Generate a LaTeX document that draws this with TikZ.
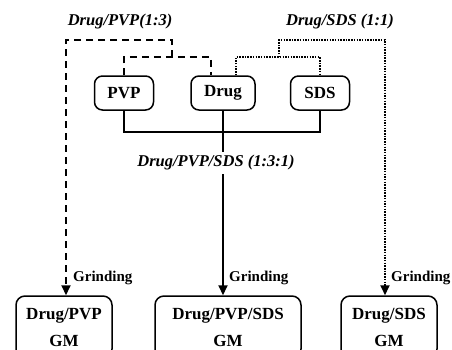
\documentclass[tikz,border=0pt]{standalone}
\usepackage{fontspec}
\setmainfont{Liberation Serif}
\usetikzlibrary{positioning,calc,arrows.meta}

\begin{document}
\begin{tikzpicture}[x=1pt, y=-1pt,
  ingbox/.style={draw, line width=1.5pt, rounded corners=8pt, minimum height=34pt,
    font=\fontsize{17}{20}\selectfont\bfseries, inner sep=0pt},
  gmbox/.style={draw, line width=1.5pt, rounded corners=9pt, minimum height=62pt,
    align=center, font=\fontsize{17}{27}\selectfont\bfseries, inner sep=0pt},
  mixlabel/.style={font=\fontsize{16.5}{20}\selectfont\bfseries\itshape},
  grindlabel/.style={anchor=west, font=\fontsize{15}{18}\selectfont\bfseries, inner sep=0pt},
  dashline/.style={line width=1.8pt, dash pattern=on 7pt off 5pt},
  dotline/.style={line width=1.8pt, dash pattern=on 1.5pt off 1.2pt},
  solidline/.style={line width=1.8pt},
  tip/.style={-{Triangle[length=10pt,width=9pt]}}]
  \clip (0,0) rectangle (452,349);

  % Mixture labels
  \node[mixlabel] (lblpvp) at (120,22) {Drug/PVP(1:3)};
  \node[mixlabel] (lblsds) at (340,22) {Drug/SDS (1:1)};
  \node[mixlabel] (lblall) at (216,163) {Drug/PVP/SDS (1:3:1)};

  % Ingredient boxes
  \node[ingbox, minimum width=59pt] (pvp) at (124,93) {PVP};
  \node[ingbox, minimum width=64pt] (drug) at (223,93) {Drug};
  \node[ingbox, minimum width=59pt] (sds) at (320,93) {SDS};

  % Ground mixture boxes
  \node[gmbox, minimum width=96pt] (gmpvp) at (64,327) {Drug/PVP\\GM};
  \node[gmbox, minimum width=146pt] (gmall) at (228,327) {Drug/PVP/SDS\\GM};
  \node[gmbox, minimum width=96pt] (gmsds) at (389,327) {Drug/SDS\\GM};

  \coordinate (pvpjoin) at (172,57);
  \coordinate (pvptop) at (66,40);
  \coordinate (sdsjoin) at (279,57);
  \coordinate (sdstop) at (385,40);
  \coordinate (alljoin) at (223,132);

  % Drug/PVP route
  \draw[dashline] (pvp.north) |- (pvpjoin) -| ($(drug.north)+(-12,0)$);
  \draw[dashline, tip] (pvpjoin) |- (pvptop) -- (pvptop |- gmpvp.north);

  % Drug/SDS route
  \draw[dotline] ($(drug.north)+(13,0)$) |- (sdsjoin) -| (sds.north);
  \draw[dotline, tip] (sdsjoin) |- (sdstop) -- (sdstop |- gmsds.north);

  % Drug/PVP/SDS route
  \draw[solidline] (pvp.south) |- (alljoin) -| (sds.south);
  \draw[solidline] (drug.south) -- (drug.south |- lblall.north);
  \draw[solidline, tip] (drug.south |- lblall.south) -- (drug.south |- gmall.north);

  % Grinding steps
  \node[grindlabel] (grind1) at (73,278) {Grinding};
  \node[grindlabel] (grind2) at (229,278) {Grinding};
  \node[grindlabel] (grind3) at (391,278) {Grinding};
\end{tikzpicture}
\end{document}
